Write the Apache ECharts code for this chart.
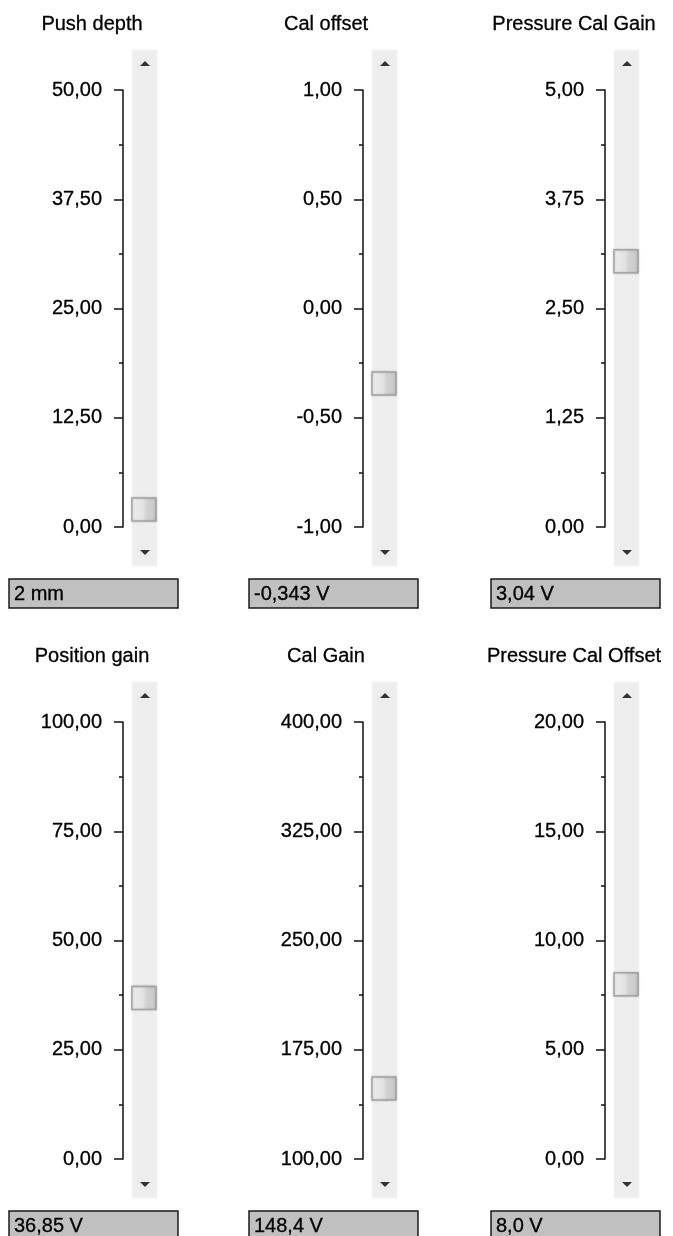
<!DOCTYPE html>
<html><head><meta charset="utf-8">
<script src="https://cdn.jsdelivr.net/npm/echarts@6/dist/echarts.min.js"></script>
<style>html,body{margin:0;padding:0;background:#fff}#c{width:673px;height:1236px}</style>
</head><body><div id="c"></div>
<script>
const titles = ['Push depth', 'Cal offset', 'Pressure Cal Gain', 'Position gain', 'Cal Gain', 'Pressure Cal Offset'];
const axisMin = [0, -1, 0, 0, 100, 0];
const axisMax = [50, 1, 5, 100, 400, 20];
const majorTicks = [
  [0, 12.5, 25, 37.5, 50],
  [-1, -0.5, 0, 0.5, 1],
  [0, 1.25, 2.5, 3.75, 5],
  [0, 25, 50, 75, 100],
  [100, 175, 250, 325, 400],
  [0, 5, 10, 15, 20]
];
const minorTicks = [
  [6.25, 18.75, 31.25, 43.75],
  [-0.75, -0.25, 0.25, 0.75],
  [0.625, 1.875, 3.125, 4.375],
  [12.5, 37.5, 62.5, 87.5],
  [137.5, 212.5, 287.5, 362.5],
  [2.5, 7.5, 12.5, 17.5]
];
const sliderValues = [2, -0.343, 3.04, 36.85, 148.4, 8.0];
const valueLabels = ['2 mm', '-0,343 V', '3,04 V', '36,85 V', '148,4 V', '8,0 V'];

const colAxisX = [123, 363, 605];
const titleCX = [92, 326, 574];
const rowTop = [90, 722];
const axisH = 437;
const FONT = '"Liberation Sans", Arial, sans-serif';

const grid = [], xAxis = [], yAxis = [], series = [], title = [], graphic = [];
const fmt = v => v.toFixed(2).replace('.', ',');

for (let i = 0; i < 6; i++) {
  const col = i % 3, row = Math.floor(i / 3);
  const ax = colAxisX[col], top = rowTop[row];
  grid.push({ left: ax, top: top, width: 42, height: axisH });
  xAxis.push({ gridIndex: i, type: 'category', data: ['s'], show: false, boundaryGap: true });
  yAxis.push({
    gridIndex: i, type: 'value', min: axisMin[i], max: axisMax[i], position: 'left',
    axisLine: { show: true, lineStyle: { color: '#111', width: 1.5 } },
    axisTick: { show: true, length: 9, customValues: majorTicks[i], lineStyle: { color: '#111', width: 1.5 } },
    axisLabel: { show: true, customValues: majorTicks[i], formatter: fmt, margin: 21,
      fontFamily: FONT, fontSize: 20, color: '#000', textBorderColor: '#000', textBorderWidth: 0.3 },
    splitLine: { show: false }
  });
  yAxis.push({
    gridIndex: i, type: 'value', min: axisMin[i], max: axisMax[i], position: 'left',
    axisLine: { show: false },
    axisTick: { show: true, length: 4, customValues: minorTicks[i], lineStyle: { color: '#111', width: 1.5 } },
    axisLabel: { show: false },
    splitLine: { show: false }
  });
  series.push({
    type: 'scatter', xAxisIndex: i, yAxisIndex: 2 * i, z: 10, silent: true,
    symbol: 'rect', symbolSize: [24, 23],
    itemStyle: {
      color: new echarts.graphic.LinearGradient(0, 0, 1, 0, [
        { offset: 0, color: '#f8f8f8' },
        { offset: 0.45, color: '#ededed' },
        { offset: 0.6, color: '#d8d8d8' },
        { offset: 1, color: '#cacaca' }
      ]),
      borderColor: '#9c9c9c', borderWidth: 1.5,
      shadowColor: 'rgba(0,0,0,0.25)', shadowBlur: 2
    },
    data: [['s', sliderValues[i]]]
  });
  title.push({
    text: titles[i], left: titleCX[col], top: top - 76, textAlign: 'center', padding: 0,
    textStyle: { fontFamily: FONT, fontSize: 20, fontWeight: 'normal', color: '#000',
      textBorderColor: '#000', textBorderWidth: 0.3 }
  });
  // scrollbar track
  graphic.push({ type: 'rect', z: 0, silent: true,
    shape: { x: ax + 9, y: top - 40, width: 25, height: axisH + 79 },
    style: { fill: '#eeeeee', stroke: '#f4f4f4', lineWidth: 1 } });
  const cx = ax + 22;
  graphic.push({ type: 'polygon', z: 1, silent: true,
    shape: { points: [[cx - 5, top - 24], [cx + 5, top - 24], [cx, top - 29]] },
    style: { fill: '#333' } });
  graphic.push({ type: 'polygon', z: 1, silent: true,
    shape: { points: [[cx - 5, top + axisH + 23], [cx + 5, top + axisH + 23], [cx, top + axisH + 28]] },
    style: { fill: '#333' } });
  // value box
  const bx = ax - 114, by = top + axisH + 52;
  graphic.push({ type: 'rect', z: 0, silent: true,
    shape: { x: bx, y: by, width: 169, height: 29 },
    style: { fill: '#c0c0c0', stroke: '#1a1a1a', lineWidth: 1.5 } });
  graphic.push({ type: 'text', z: 1, silent: true,
    style: { text: valueLabels[i], x: bx + 5, y: by + 15.5, verticalAlign: 'middle',
      font: '20px ' + FONT, fill: '#000', stroke: '#000', lineWidth: 0.3 } });
}

const chart = echarts.init(document.getElementById('c'), null, { renderer: 'canvas' });
chart.setOption({
  backgroundColor: '#fff', animation: false,
  title, grid, xAxis, yAxis, series, graphic
});
</script>
</body></html>
